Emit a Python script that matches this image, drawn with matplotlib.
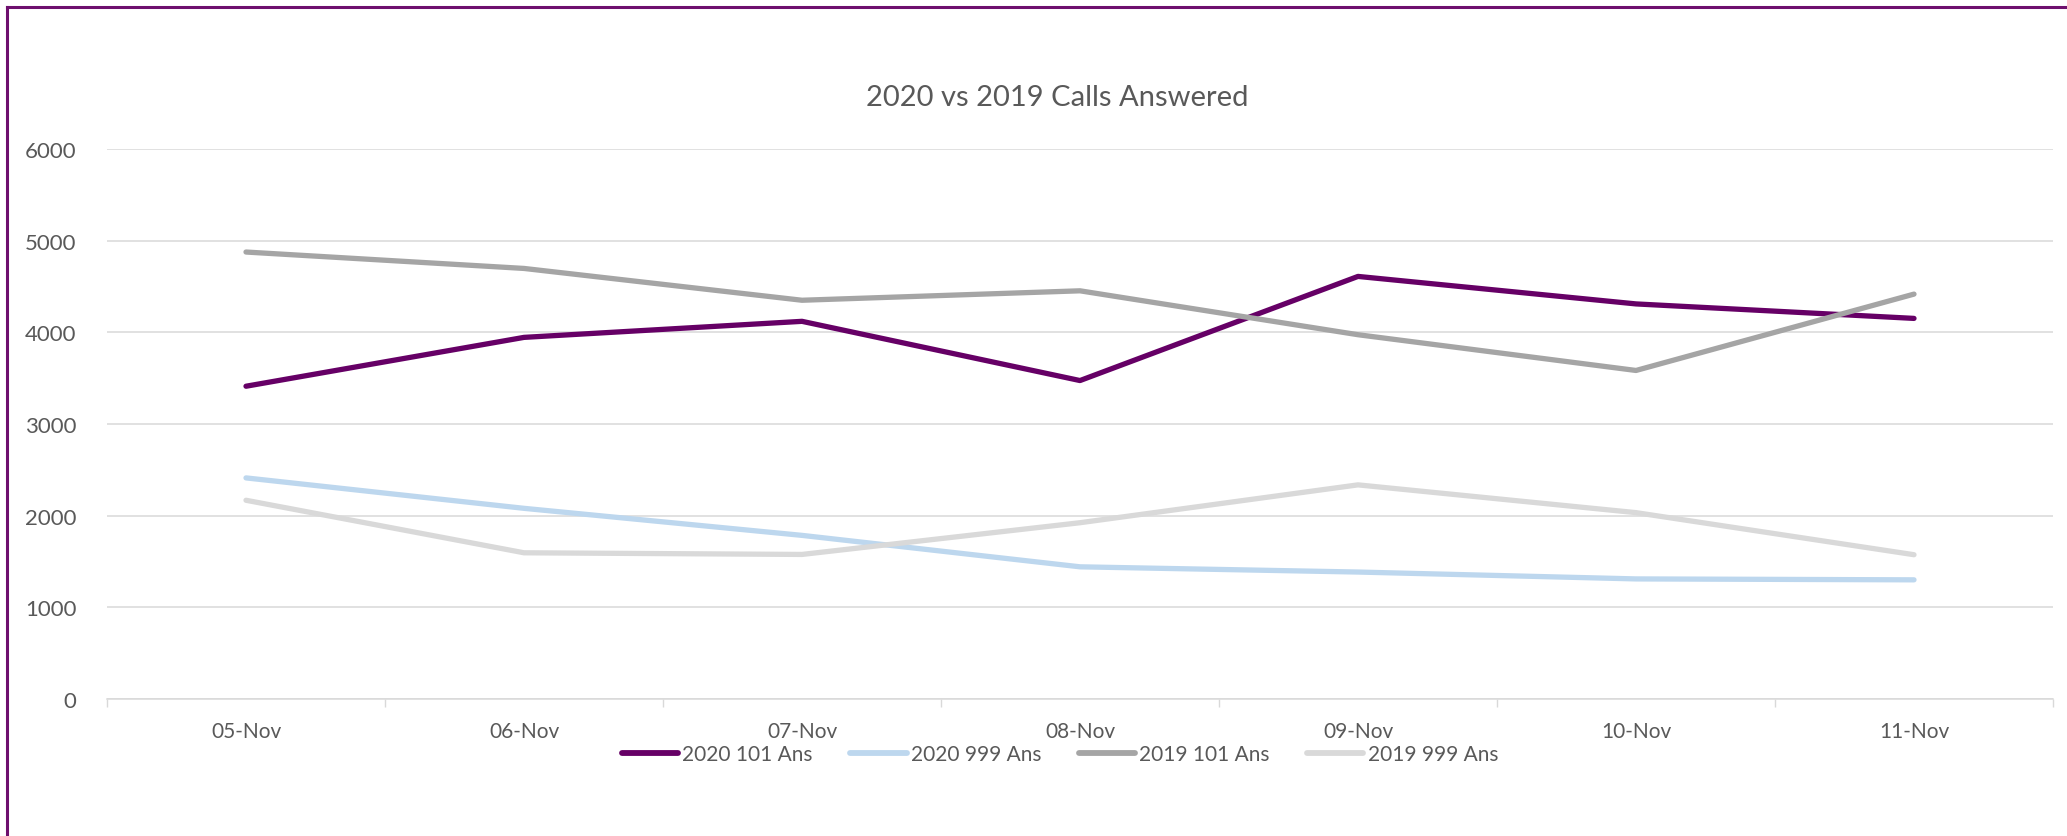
import matplotlib
matplotlib.use("Agg")
import matplotlib.pyplot as plt
from matplotlib.lines import Line2D
import numpy as np

# ---- data ----
categories = ["05-Nov", "06-Nov", "07-Nov", "08-Nov", "09-Nov", "10-Nov", "11-Nov"]
s2020_101 = [3412, 3945, 4120, 3474, 4610, 4310, 4152]
s2020_999 = [2412, 2080, 1785, 1442, 1385, 1310, 1300]
s2019_101 = [4876, 4697, 4350, 4453, 3974, 3584, 4417]
s2019_999 = [2168, 1595, 1577, 1923, 2336, 2033, 1574]
series_names = ["2020 101 Ans", "2020 999 Ans", "2019 101 Ans", "2019 999 Ans"]
title = "2020 vs 2019 Calls Answered"
yticks = [0, 1000, 2000, 3000, 4000, 5000, 6000]

colors = ["#660066", "#BDD7EE", "#A5A5A5", "#D9D9D9"]
text_color = "#595959"
grid_color = "#D9D9D9"
main_font = ["Lato", "DejaVu Sans"]

W, H = 2067, 837
fig = plt.figure(figsize=(W / 100, H / 100), dpi=100)
fig.patch.set_facecolor("white")

ax = fig.add_axes([107 / W, 1 - 700 / H, (2053 - 107) / W, (700 - 150) / H])
x = np.arange(len(categories))
all_series = [s2020_101, s2020_999, s2019_101, s2019_999]
handles = []
for vals, c, name in zip(all_series, colors, series_names):
    ln, = ax.plot(x, vals, color=c, lw=3.8, solid_capstyle="round",
                  solid_joinstyle="round", label=name, zorder=3)
    handles.append(ln)

ax.set_xlim(-0.5, len(categories) - 0.5)
ax.set_ylim(0, 6000)
ax.set_yticks(yticks)
ax.set_yticklabels([str(v) for v in yticks], fontfamily=main_font,
                   fontsize=16, color=text_color)
ax.set_xticks(x)
ax.set_xticklabels(categories, fontfamily=main_font, fontsize=15,
                   color=text_color)
ax.set_xticks(np.arange(-0.5, len(categories)), minor=True)
ax.tick_params(axis="y", length=0, pad=22)
ax.tick_params(axis="x", which="major", length=0, pad=16)
ax.tick_params(axis="x", which="minor", length=6, width=1, color=grid_color)

ax.grid(axis="y", color=grid_color, lw=1.1, zorder=0)
for sp in ["top", "right", "left"]:
    ax.spines[sp].set_visible(False)
ax.spines["bottom"].set_color(grid_color)
ax.spines["bottom"].set_linewidth(1.1)
ax.set_facecolor("none")

fig.text(1057 / W, 1 - 98 / H, title, ha="center", va="center",
         fontfamily=main_font, fontsize=21, color=text_color)

leg = fig.legend(handles=handles, labels=series_names, loc="center",
                 bbox_to_anchor=(1060 / W, 1 - 755 / H), ncol=4, frameon=False,
                 handlelength=2.7, handletextpad=0.2, columnspacing=1.8,
                 borderpad=0, prop={"family": main_font, "size": 15})
for t in leg.get_texts():
    t.set_color(text_color)
for lh in leg.get_lines():
    lh.set_linewidth(4.2)

# purple chart border (top and left visible)
fig.add_artist(Line2D([7 / W, 7 / W], [1 - 8 / H, 0], transform=fig.transFigure,
                      color="#6E0F6E", lw=2.2))
fig.add_artist(Line2D([7 / W, 1], [1 - 8 / H, 1 - 8 / H], transform=fig.transFigure,
                      color="#6E0F6E", lw=2.2))

fig.savefig("out.png", dpi=100)
